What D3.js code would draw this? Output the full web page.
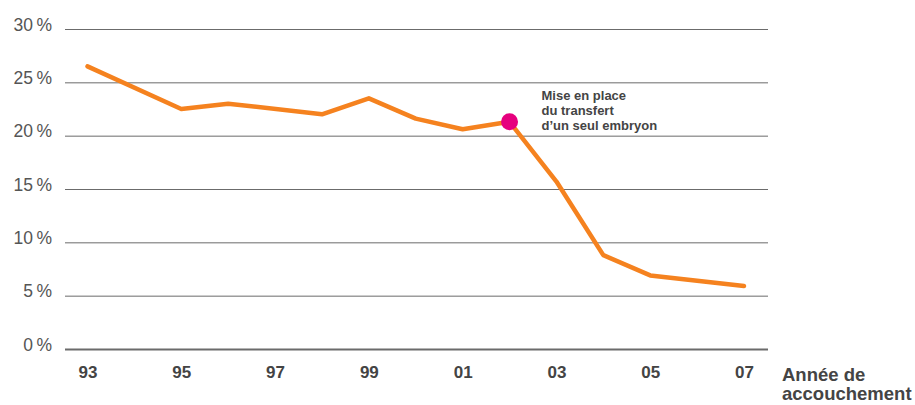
<!DOCTYPE html>
<html>
<head>
<meta charset="utf-8">
<script src="https://cdn.jsdelivr.net/npm/d3@7"></script>
<style>
  html, body { margin: 0; padding: 0; background: #fff; }
  svg { display: block; font-family: "Liberation Sans", Arial, Helvetica, sans-serif; }
</style>
</head>
<body>
<svg id="chart" width="915" height="405"></svg>
<script>
// Twin-birth rate by year of delivery
const years = [1993, 1995, 1996, 1998, 1999, 2000, 2001, 2002, 2003, 2004, 2005, 2007];
const rates = [26.5, 22.5, 23.0, 22.0, 23.5, 21.6, 20.6, 21.3, 15.7, 8.8, 6.9, 5.9];
const yTicks = [0, 5, 10, 15, 20, 25, 30];
const xTicks = [1993, 1995, 1997, 1999, 2001, 2003, 2005, 2007];
const markerYear = 2002;
const noteLines = ["Mise en place", "du transfert", "d\u2019un seul embryon"];
const axisTitle = ["Année de", "accouchement"];

const svg = d3.select("#chart");
const gridLeft = 65, gridRight = 768;

const x = d3.scaleLinear().domain([1993, 2007]).range([87.5, 744]);
const y = d3.scaleLinear().domain([0, 30]).range([349, 29]);

// horizontal grid
const yAxis = d3.axisLeft(y)
  .tickValues(yTicks)
  .tickSize(-(gridRight - gridLeft))
  .tickPadding(13)
  .tickFormat(d => d + "\u2009%");

const gy = svg.append("g")
  .attr("transform", `translate(${gridLeft},0)`)
  .call(yAxis);
gy.select(".domain").remove();
gy.selectAll(".tick line")
  .attr("stroke", "#6b6b6b")
  .attr("stroke-width", d => d === 0 ? 2.2 : 1);
gy.selectAll(".tick text")
  .attr("fill", "#555")
  .attr("font-size", 17.5)
  .attr("dy", "0.06em");

// x labels
const xAxis = d3.axisBottom(x)
  .tickValues(xTicks)
  .tickSize(0)
  .tickPadding(0)
  .tickFormat(d => String(d % 100).padStart(2, "0"));
const gx = svg.append("g")
  .attr("transform", "translate(0,366)")
  .call(xAxis);
gx.select(".domain").remove();
gx.selectAll(".tick text")
  .attr("fill", "#444")
  .attr("font-size", 17)
  .attr("font-weight", "bold")
  .attr("dy", "0.7em");

// axis title
svg.append("text")
  .attr("x", 782)
  .attr("y", 381)
  .attr("fill", "#444")
  .attr("font-size", 18.5)
  .attr("font-weight", "bold")
  .selectAll("tspan")
  .data(axisTitle)
  .join("tspan")
  .attr("x", 782)
  .attr("dy", (d, i) => i === 0 ? 0 : 19)
  .text(d => d);

// series line
const line = d3.line()
  .x((d, i) => x(years[i]))
  .y(d => y(d));
svg.append("path")
  .datum(rates)
  .attr("d", line)
  .attr("fill", "none")
  .attr("stroke", "#f5821f")
  .attr("stroke-width", 4.5)
  .attr("stroke-linejoin", "round")
  .attr("stroke-linecap", "round");

// policy-change marker
const mi = years.indexOf(markerYear);
svg.append("circle")
  .attr("cx", x(markerYear))
  .attr("cy", y(rates[mi]))
  .attr("r", 8.5)
  .attr("fill", "#e6007e");

svg.append("text")
  .attr("fill", "#444")
  .attr("font-size", 13)
  .attr("font-weight", "bold")
  .selectAll("tspan")
  .data(noteLines)
  .join("tspan")
  .attr("x", x(markerYear) + 32)
  .attr("y", (d, i) => 99.5 + i * 15)
  .text(d => d);
</script>
</body>
</html>
